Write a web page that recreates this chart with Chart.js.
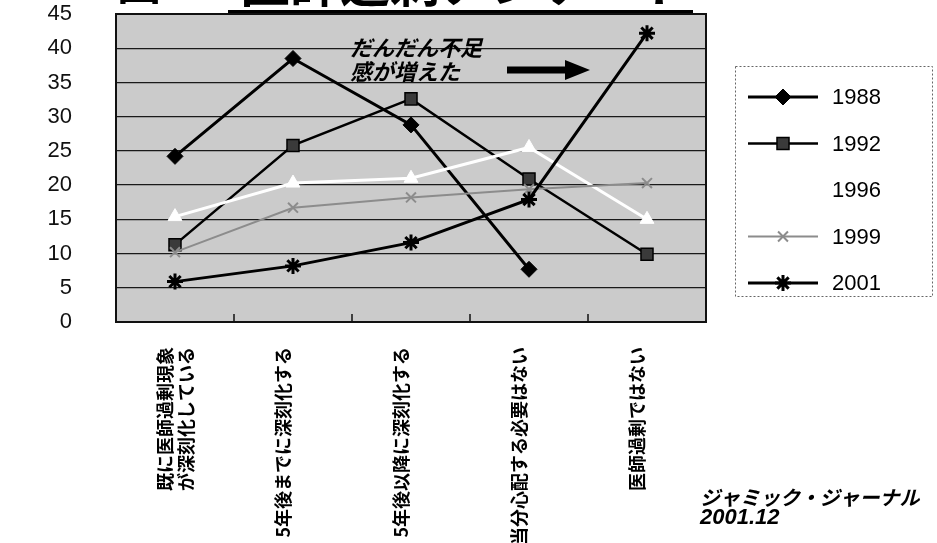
<!DOCTYPE html>
<html lang="ja">
<head>
<meta charset="utf-8">
<title>医師過剰アンケート</title>
<script src="https://cdn.jsdelivr.net/npm/chart.js@4/dist/chart.umd.min.js"></script>
<style>
  html, body { margin: 0; padding: 0; background: #ffffff; }
  #wrap { width: 937px; height: 543px; }
</style>
</head>
<body>
<div id="wrap"><canvas id="c" width="937" height="543"></canvas></div>
<script>
// Survey answers (percent) by year
const categories = [
  ["既に医師過剰現象", "が深刻化している"],
  "5年後までに深刻化する",
  "5年後以降に深刻化する",
  "当分心配する必要はない",
  "医師過剰ではない"
];
const seriesNames = ["1988", "1992", "1996", "1999", "2001"];
const values1988 = [24.2, 38.5, 28.8, 7.7, null];
const values1992 = [11.3, 25.8, 32.6, 20.9, 9.9];
const values1996 = [15.4, 20.3, 21.0, 25.5, 15.0];
const values1999 = [10.2, 16.7, 18.2, 19.4, 20.3];
const values2001 = [5.9, 8.2, 11.6, 17.9, 42.2];
const yMin = 0, yMax = 45, yStep = 5;

const titleText = "医師過剰アンケート";
const figureMark = "図";
const noteLines = ["だんだん不足", "感が増えた"];
const sourceLines = ["ジャミック・ジャーナル", "2001.12"];

const CJK = '"Noto Sans CJK JP", "Noto Sans CJK SC", sans-serif';
const LATIN = '"Liberation Sans", Arial, sans-serif';

// Gray plot background, frame and inward category ticks
const plotFrame = {
  id: 'plotFrame',
  beforeDraw(chart) {
    const { ctx, chartArea: a } = chart;
    ctx.save();
    ctx.fillStyle = '#cbcbcb';
    ctx.fillRect(a.left, a.top, a.right - a.left, a.bottom - a.top);
    ctx.restore();
  },
  afterDatasetsDraw(chart) {
    const { ctx, chartArea: a, scales } = chart;
    const xs = scales.x;
    ctx.save();
    ctx.strokeStyle = '#111';
    ctx.lineWidth = 2;
    ctx.strokeRect(a.left, a.top, a.right - a.left, a.bottom - a.top);
    ctx.lineWidth = 1.5;
    for (let i = 0; i < categories.length - 1; i++) {
      const px = (xs.getPixelForValue(i) + xs.getPixelForValue(i + 1)) / 2;
      ctx.beginPath();
      ctx.moveTo(px, a.bottom);
      ctx.lineTo(px, a.bottom - 8);
      ctx.stroke();
    }
    ctx.restore();
  }
};

// Heading, in-plot note with arrow, and source line
const decorations = {
  id: 'decorations',
  afterDraw(chart) {
    const { ctx, chartArea: a } = chart;
    ctx.save();
    ctx.fillStyle = '#000';
    // heading (runs off the top edge)
    ctx.textBaseline = 'alphabetic';
    ctx.textAlign = 'left';
    ctx.font = 'bold 44px ' + CJK;
    ctx.fillText(figureMark, 117, 0);
    ctx.font = 'bold 50px ' + CJK;
    ctx.fillText(titleText, 240, 2);
    ctx.fillRect(228, 10, 465, 3);

    // note inside the plot
    ctx.font = 'italic bold 22px ' + CJK;
    ctx.textBaseline = 'middle';
    ctx.fillText(noteLines[0], a.left + 234, 48);
    ctx.fillText(noteLines[1], a.left + 234, 72);
    // arrow
    const ay = 70;
    ctx.fillRect(a.left + 391, ay - 3.5, 62, 7);
    ctx.beginPath();
    ctx.moveTo(a.left + 449, ay - 10);
    ctx.lineTo(a.left + 474, ay);
    ctx.lineTo(a.left + 449, ay + 10);
    ctx.closePath();
    ctx.fill();

    // source
    ctx.font = 'italic bold 20px ' + CJK;
    ctx.fillText(sourceLines[0], 700, 497);
    ctx.font = 'italic bold 22px ' + LATIN;
    ctx.fillText(sourceLines[1], 700, 518);
    ctx.restore();
  }
};

// Boxed legend with line-and-marker samples
const boxLegend = {
  id: 'boxLegend',
  afterDraw(chart) {
    const { ctx } = chart;
    const left = 735, top = 66, w = 197, h = 230;
    const x0 = 748, x1 = 818, mx = 783, tx = 832;
    ctx.save();
    ctx.strokeStyle = '#666';
    ctx.lineWidth = 1;
    ctx.setLineDash([2, 2]);
    ctx.strokeRect(left + 0.5, top + 0.5, w, h);
    ctx.setLineDash([]);
    chart.data.datasets.forEach((ds, i) => {
      const y = 97 + i * 46.5;
      ctx.strokeStyle = ds.borderColor;
      ctx.lineWidth = ds.borderWidth;
      ctx.beginPath();
      ctx.moveTo(x0, y);
      ctx.lineTo(x1, y);
      ctx.stroke();
      ctx.fillStyle = ds.pointBackgroundColor;
      ctx.strokeStyle = ds.pointBorderColor;
      ctx.lineWidth = ds.pointBorderWidth;
      Chart.helpers.drawPoint(ctx, {
        pointStyle: ds.pointStyle,
        radius: ds.pointRadius,
        rotation: 0,
        borderWidth: ds.pointBorderWidth
      }, mx, y);
      ctx.fillStyle = '#000';
      ctx.font = '22px ' + LATIN;
      ctx.textBaseline = 'middle';
      ctx.textAlign = 'left';
      ctx.fillText(ds.label, tx, y + 1);
    });
    ctx.restore();
  }
};

function series(label, data, color, width, style, radius, fill, pbw, order) {
  return {
    label, data, order,
    borderColor: color, borderWidth: width,
    pointStyle: style, pointRadius: radius, pointHoverRadius: radius,
    pointBackgroundColor: fill, pointBorderColor: color, pointBorderWidth: pbw,
    tension: 0, fill: false
  };
}

new Chart(document.getElementById('c'), {
  type: 'line',
  data: {
    labels: categories,
    datasets: [
      series(seriesNames[0], values1988, '#000000', 3, 'rectRot', 8, '#000000', 1, 5),
      series(seriesNames[1], values1992, '#000000', 2.5, 'rect', 8.5, '#3a3a3a', 1.5, 4),
      series(seriesNames[2], values1996, '#ffffff', 3, 'triangle', 8, '#ffffff', 1, 3),
      series(seriesNames[3], values1999, '#8c8c8c', 2, 'crossRot', 7, '#8c8c8c', 2, 2),
      series(seriesNames[4], values2001, '#000000', 3, 'star', 8, '#000000', 3, 1)
    ]
  },
  options: {
    responsive: false,
    devicePixelRatio: 1,
    animation: false,
    events: [],
    layout: { padding: { left: 0, right: 231, top: 14, bottom: 0 } },
    plugins: {
      legend: { display: false },
      tooltip: { enabled: false },
      title: { display: false }
    },
    scales: {
      x: {
        type: 'category',
        offset: true,
        grid: { display: false },
        border: { display: false },
        ticks: {
          autoSkip: false,
          minRotation: 90,
          maxRotation: 90,
          padding: 17,
          labelOffset: -10,
          color: '#000',
          font: { family: CJK, size: 18, weight: 'bold', lineHeight: 1.2 }
        },
        afterFit(scale) { scale.height = 543 - 322; }
      },
      y: {
        min: yMin,
        max: yMax,
        grid: {
          color: (c) => (c.tick.value === yMin || c.tick.value === yMax) ? 'rgba(0,0,0,0)' : '#1a1a1a',
          lineWidth: 1.3,
          drawTicks: true,
          tickLength: 43,
          tickColor: 'rgba(0,0,0,0)'
        },
        border: { display: false },
        ticks: {
          stepSize: yStep,
          padding: 1,
          color: '#111',
          font: { family: LATIN, size: 22, lineHeight: 1 }
        },
        afterFit(scale) { scale.width = 116; }
      }
    }
  },
  plugins: [plotFrame, decorations, boxLegend]
});
</script>
</body>
</html>
